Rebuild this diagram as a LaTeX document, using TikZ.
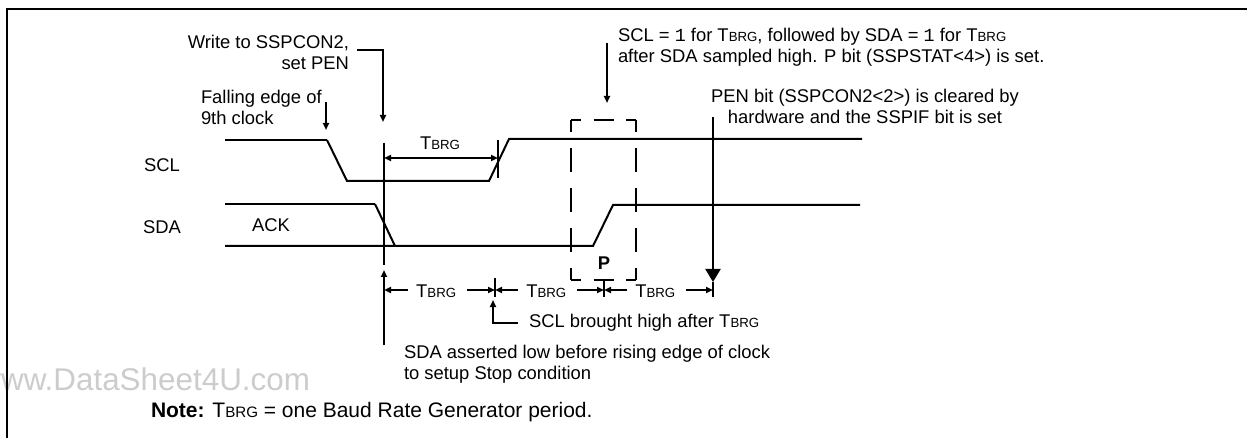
\documentclass[tikz,border=0pt]{standalone}
\usepackage{fontspec}
\setmainfont{Liberation Sans}
\newfontfamily\monofont{Liberation Mono}
\usetikzlibrary{positioning, arrows.meta, calc}
\newcommand{\tbrg}{T\scalebox{0.72}{BRG}}

\begin{document}
\begin{tikzpicture}[x=0.5pt, y=-0.5pt, line width=1pt,
    every node/.style={font=\fontsize{9.2}{10.5}\selectfont, inner sep=0pt},
    lead/.style={-{Triangle[length=3.5pt,width=3pt]}},
    thinwave/.style={line width=0.6pt},
    vdash/.style={dash pattern=on 12pt off 8pt, dash phase=6pt},
    hdash/.style={dash pattern=on 10pt off 6.25pt, dash phase=5pt}]
    \useasboundingbox (0,0) rectangle (1247,438);
    % watermark and frame
    \node[anchor=east, text=black!20, font=\fontsize{15.7}{15.7}\selectfont] (wm) at (311,379) {www.DataSheet4U.com};
    \draw[line width=1.2pt] (7,438) -- (7,9) -- (1247,9);

    % signal names
    \node (scl) at (162,165) {SCL};
    \node (sda) at (162,227) {SDA};
    \node (ack) at (271,225) {ACK};

    % waveforms
    \draw[thinwave] (225,140) -- (327,140);
    \draw (327,140) -- (347,181) -- (489,181) -- (509,139) -- (862,139);
    \draw[thinwave] (225,204) -- (375,204);
    \draw (375,204) -- (395,246);
    \draw (225,246) -- (593,246) -- (613,205) -- (860,205);

    % stop condition box
    \coordinate (bx1) at (571,120);
    \coordinate (bx2) at (636,280);
    \draw[hdash] (bx1) -- (bx1 -| bx2);
    \draw[hdash] (bx1 |- bx2) -- (bx2);
    \draw[vdash] (bx1) -- (bx1 |- bx2);
    \draw[vdash] (bx1 -| bx2) -- (bx2);
    \node[font=\bfseries\fontsize{9.2}{10.5}\selectfont] (p) at (604,263) {P};

    % first TBRG after write
    \coordinate (wr) at (384,143);
    \coordinate (wr2) at (498,158);
    \draw (wr) -- (384,265);
    \draw (498,140) -- (498,178);
    \draw[{Triangle[length=3.5pt,width=3pt]}-{Triangle[length=3.5pt,width=3pt]}] (wr |- wr2) -- (wr2);
    \node (tup) at (440,143) {\tbrg};

    % TBRG row
    \coordinate (m0) at (384,290);
    \coordinate (m1) at (495,290);
    \coordinate (m2) at (604,290);
    \coordinate (m3) at (713,290);
    \draw ($(m1)+(0,-12)$) -- ($(m1)+(0,7)$);
    \draw ($(m2)+(0,-11)$) -- ($(m2)+(0,7)$);
    \draw ($(m3)+(0,-8)$) -- ($(m3)+(0,7)$);
    \foreach \a/\b [count=\n] in {m0/m1, m1/m2, m2/m3} {
        \node (t\n) at ($(\a)!0.47!(\b)+(0,1)$) {\tbrg};
        \draw[lead] ($(t\n.west)+(-7,-1)$) -- (\a);
        \draw[lead] ($(t\n.east)+(10,-1)$) -- (\b);
    }

    % notes with leaders
    \node[anchor=east, align=right] (write) at (350,52) {Write to SSPCON2,\\set PEN};
    \coordinate (wrtip) at (383,122);
    \draw[lead] ($(write.east)+(7,-2)$) -| (wrtip);

    \node[anchor=west, align=left] (fall) at (200,107) {Falling edge of\\9th clock};
    \coordinate (fetip) at (326,130);
    \draw[lead] ($(fetip)+(0,-28)$) -- (fetip);

    \node[anchor=west, align=left] (stopnote) at (617,47)
      {SCL = {\monofont 1} for \tbrg, followed by SDA = {\monofont 1} for \tbrg\\after SDA sampled high. P bit (SSPSTAT<4>) is set.};
    \coordinate (stoptip) at (607,103);
    \draw[lead] ($(stoptip)+(0,-60)$) -- (stoptip);

    \node[align=center] (pen) at (865,106) {PEN bit (SSPCON2<2>) is cleared by\\hardware and the SSPIF bit is set};
    \coordinate (pentip) at (713,282);
    \draw[-{Triangle[length=6.5pt,width=7.5pt]}] ($(pentip)+(0,-165)$) -- (pentip);

    \node[anchor=west] (brought) at (528,323) {SCL brought high after \tbrg};
    \coordinate (bhtip) at (493,300);
    \draw[lead] ($(brought.west)+(-10,0)$) -| (bhtip);

    \node[anchor=north west, align=left] (asserted) at (403,344)
      {SDA asserted low before rising edge of clock\\to setup Stop condition};
    \coordinate (astip) at (384,270);
    \draw[lead] ($(astip)+(0,75)$) -- (astip);

    \node[anchor=west, font=\fontsize{10.5}{12}\selectfont] (note) at (150,412) {\textbf{Note:} \tbrg{} = one Baud Rate Generator period.};
\end{tikzpicture}
\end{document}
